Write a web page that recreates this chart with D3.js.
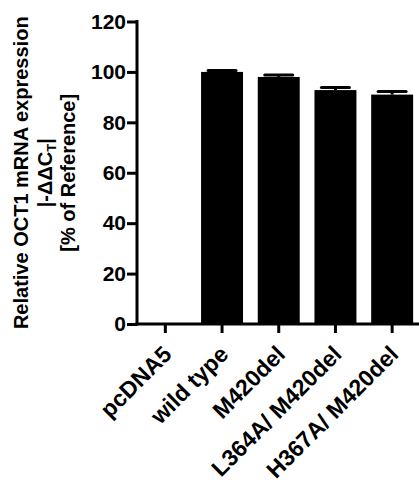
<!DOCTYPE html>
<html>
<head>
<meta charset="utf-8">
<script src="https://cdn.jsdelivr.net/npm/d3@7"></script>
<style>
  body { margin: 0; background: #fff; }
  text { font-family: "Liberation Sans", Arial, sans-serif; font-weight: bold; }
</style>
</head>
<body>
<div id="chart"></div>
<script>
// data
const categories = ['pcDNA5', 'wild type', 'M420del', 'L364A/ M420del', 'H367A/ M420del'];
const values = [0, 100, 98, 92.8, 91];
const errors = [0, 0.6, 0.8, 1.0, 1.2];
const yTicks = [0, 20, 40, 60, 80, 100, 120];

const width = 419, height = 486;
const margin = { top: 21.5, right: -1.5, bottom: 162, left: 137 };
const w = width - margin.left - margin.right;
const h = height - margin.top - margin.bottom;

const svg = d3.select('#chart').append('svg')
    .attr('width', width)
    .attr('height', height);

const g = svg.append('g')
    .attr('transform', 'translate(' + margin.left + ',' + margin.top + ')');

const x = d3.scaleBand()
    .domain(categories)
    .range([0, w])
    .paddingInner(0.26)
    .paddingOuter(0.13);

const y = d3.scaleLinear()
    .domain([0, 120])
    .range([h, 0]);

// bars
const rows = categories.map((c, i) => ({ name: c, val: values[i], err: errors[i] }));

g.selectAll('rect.bar')
    .data(rows)
    .enter()
    .append('rect')
    .attr('class', 'bar')
    .attr('x', d => x(d.name))
    .attr('width', x.bandwidth())
    .attr('y', d => y(d.val))
    .attr('height', d => h - y(d.val))
    .attr('fill', '#000');

// error bars (upper only)
const eb = g.selectAll('g.err')
    .data(rows.filter(d => d.err > 0))
    .enter()
    .append('g')
    .attr('class', 'err');

eb.append('line')
    .attr('x1', d => x(d.name) + x.bandwidth() / 2)
    .attr('x2', d => x(d.name) + x.bandwidth() / 2)
    .attr('y1', d => y(d.val))
    .attr('y2', d => y(d.val + d.err))
    .attr('stroke', '#000')
    .attr('stroke-width', 3);

eb.append('line')
    .attr('x1', d => x(d.name) + x.bandwidth() / 2 - 14)
    .attr('x2', d => x(d.name) + x.bandwidth() / 2 + 14)
    .attr('y1', d => y(d.val + d.err))
    .attr('y2', d => y(d.val + d.err))
    .attr('stroke', '#000')
    .attr('stroke-width', 3)
    .attr('stroke-linecap', 'round');

// y axis
const yAxis = d3.axisLeft(y)
    .tickValues(yTicks)
    .tickSize(10)
    .tickSizeOuter(0)
    .tickPadding(1);

const ya = g.append('g')
    .attr('class', 'y axis')
    .call(yAxis);

ya.select('.domain').attr('stroke-width', 3).attr('d', 'M0,' + (y(120) - 1.5) + 'V' + (h + 1.5));
ya.selectAll('.tick line').attr('stroke-width', 3);
ya.selectAll('.tick text')
    .attr('font-size', 21)
    .attr('fill', '#000');

// x axis
const xAxis = d3.axisBottom(x)
    .tickSize(9)
    .tickSizeOuter(0);

const xa = g.append('g')
    .attr('class', 'x axis')
    .attr('transform', 'translate(0,' + h + ')')
    .call(xAxis);

xa.select('.domain').attr('stroke-width', 3).attr('d', 'M-1.5,0H' + (w + 5));
xa.selectAll('.tick line').attr('stroke-width', 3);
xa.selectAll('.tick text')
    .attr('font-size', 23)
    .attr('fill', '#000')
    .style('text-anchor', 'end')
    .attr('dy', '0.35em')
    .attr('transform', 'translate(2,26) rotate(-45)')
    .attr('y', 0)
    .attr('x', 0);

// y axis title (three lines)
const title = svg.append('text')
    .attr('transform', 'translate(0,' + (margin.top + h / 2) + ') rotate(-90)')
    .attr('text-anchor', 'middle')
    .attr('font-size', 20)
    .attr('fill', '#000');

title.append('tspan').attr('x', 0).attr('y', 28).text('Relative OCT1 mRNA expression');

title.append('tspan').attr('x', 0).attr('y', 52).text('|-\u0394\u0394C');
title.append('tspan').attr('dy', 4).attr('font-size', 13).text('T');
title.append('tspan').attr('dy', -4).text('|');

title.append('tspan').attr('x', 0).attr('y', 75).text('[% of Reference]');
</script>
</body>
</html>
